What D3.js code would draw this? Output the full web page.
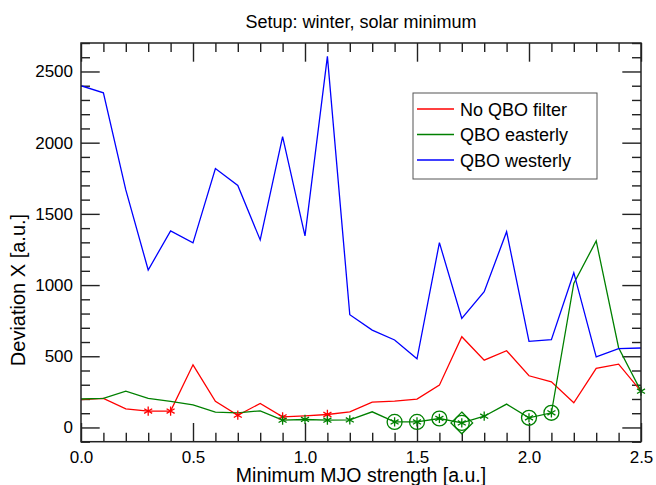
<!DOCTYPE html>
<html>
<head>
<meta charset="utf-8">
<script src="https://cdn.jsdelivr.net/npm/d3@7"></script>
<style>
  body { margin: 0; background: #fff; }
  text { font-family: "Liberation Sans", Arial, sans-serif; fill: #000; }
</style>
</head>
<body>
<div id="chart"></div>
<script>
// minimum MJO strength (x)
var strength = [0.0, 0.1, 0.2, 0.3, 0.4, 0.5, 0.6, 0.7, 0.8, 0.9, 1.0, 1.1, 1.2,
                1.3, 1.4, 1.5, 1.6, 1.7, 1.8, 1.9, 2.0, 2.1, 2.2, 2.3, 2.4, 2.5];

var noFilter = [195, 204, 131, 115, 115, 440, 183, 86, 169, 75, 82, 91, 110,
                178, 185, 199, 297, 637, 473, 539, 363, 321, 173, 415, 445, 255];
var easterly = [200, 204, 255, 204, 183, 159, 108, 103, 117, 51, 56, 51, 53,
                110, 39, 39, 63, 32, 79, 164, 68, 103, 1012, 1310, 560, 255];
var westerly = [2400, 2350, 1668, 1106, 1380, 1296, 1818, 1699, 1317, 2043, 1345, 2606, 792,
                684, 614, 482, 1298, 766, 953, 1375, 605, 616, 1087, 496, 553, 558];

// points that carry marks (by x value)
var noFilterStars = [0.3, 0.4, 0.7, 0.9, 1.1];
var easterlyStars = [0.9, 1.0, 1.1, 1.2, 1.4, 1.5, 1.6, 1.7, 1.8, 2.0, 2.1, 2.5];
var easterlyCircles = [1.4, 1.5, 1.6, 1.7, 2.0, 2.1];
var easterlyDiamonds = [1.7];

var xTicks = [0.0, 0.5, 1.0, 1.5, 2.0, 2.5];
var yTicks = [0, 500, 1000, 1500, 2000, 2500];

var series = [
  {name: "No QBO filter", values: noFilter, color: "#ff0000"},
  {name: "QBO easterly",  values: easterly, color: "#008000"},
  {name: "QBO westerly",  values: westerly, color: "#0000ff"}
];

var width = 656, height = 485;
var plotL = 81, plotR = 641, plotT = 43, plotB = 441.7;
var major = 18.7, minor = 9;

var svg = d3.select("#chart").append("svg")
    .attr("width", width)
    .attr("height", height);

var x = d3.scaleLinear().domain([0, 2.5]).range([plotL, plotR]);
var y = d3.scaleLinear().domain([-100, 2700]).range([plotB, plotT]);

var xMinor = d3.range(0, 26).map(function(i) { return i / 10; })
    .filter(function(v) { return Math.abs(v * 2 - Math.round(v * 2)) > 1e-6; });
var yMinor = d3.range(-100, 2701, 100).filter(function(v) { return v % 500 != 0; });

function tickAxis(axis, scale, ticks, size, labels) {
  return axis(scale).tickValues(ticks).tickSize(-size).tickPadding(8)
    .tickFormat(labels ? labels : "");
}

// ticks on all four sides, pointing inwards
var gx = svg.append("g").attr("transform", "translate(0," + plotB + ")");
gx.call(tickAxis(d3.axisBottom, x, xTicks, major, d3.format(".1f")));
gx.append("g").call(tickAxis(d3.axisBottom, x, xMinor, minor));

var gt = svg.append("g").attr("transform", "translate(0," + plotT + ")");
gt.call(tickAxis(d3.axisTop, x, xTicks, major));
gt.append("g").call(tickAxis(d3.axisTop, x, xMinor, minor));

var gy = svg.append("g").attr("transform", "translate(" + plotL + ",0)");
gy.call(tickAxis(d3.axisLeft, y, yTicks, major, d3.format("d")));
gy.append("g").call(tickAxis(d3.axisLeft, y, yMinor, minor));

var gr = svg.append("g").attr("transform", "translate(" + plotR + ",0)");
gr.call(tickAxis(d3.axisRight, y, yTicks, major));
gr.append("g").call(tickAxis(d3.axisRight, y, yMinor, minor));

svg.selectAll(".domain").remove();
svg.selectAll(".tick line").attr("stroke", "#222").attr("stroke-width", 1.4);
svg.selectAll(".tick text").attr("font-size", 17).attr("fill", "#000")
    .attr("font-family", "Liberation Sans, Arial, sans-serif");
gx.selectAll(".tick text").attr("dy", "0.75em").attr("y", 9);

// clip lines to the frame
svg.append("clipPath").attr("id", "plotclip")
  .append("rect").attr("x", plotL).attr("y", plotT)
  .attr("width", plotR - plotL).attr("height", plotB - plotT);

var line = d3.line()
    .x(function(d) { return x(d[0]); })
    .y(function(d) { return y(d[1]); });

var plot = svg.append("g").attr("clip-path", "url(#plotclip)");
series.forEach(function(s) {
  plot.append("path")
    .datum(strength.map(function(v, i) { return [v, s.values[i]]; }))
    .attr("fill", "none")
    .attr("stroke", s.color)
    .attr("stroke-width", 1.3)
    .attr("d", line);
});

function valueAt(values, v) {
  return values[Math.round(v * 10)];
}

function drawMarks(list, values, color, symbolType, size) {
  var sym = d3.symbol().type(symbolType).size(size);
  svg.append("g").selectAll("path")
    .data(list)
    .join("path")
      .attr("transform", function(v) {
        return "translate(" + x(v) + "," + y(valueAt(values, v)) + ")";
      })
      .attr("d", sym)
      .attr("fill", "none")
      .attr("stroke", color)
      .attr("stroke-width", 1.3);
}

drawMarks(noFilterStars, noFilter, "#ff0000", d3.symbolAsterisk, 60);
drawMarks(easterlyStars, easterly, "#008000", d3.symbolAsterisk, 60);
drawMarks(easterlyCircles, easterly, "#008000", d3.symbolCircle, 175);
drawMarks(easterlyDiamonds, easterly, "#008000", d3.symbolDiamond2, 300);

// frame
svg.append("rect")
  .attr("x", plotL).attr("y", plotT)
  .attr("width", plotR - plotL).attr("height", plotB - plotT)
  .attr("fill", "none").attr("stroke", "#222").attr("stroke-width", 1.5);

// titles
svg.append("text")
  .attr("x", (plotL + plotR) / 2).attr("y", 28)
  .attr("text-anchor", "middle").attr("font-size", 18)
  .text("Setup: winter, solar minimum");

svg.append("text")
  .attr("x", (plotL + plotR) / 2).attr("y", 482)
  .attr("text-anchor", "middle").attr("font-size", 19.5)
  .text("Minimum MJO strength [a.u.]");

svg.append("text")
  .attr("transform", "translate(25," + 290 + ") rotate(-90)")
  .attr("text-anchor", "middle").attr("font-size", 20)
  .text("Deviation X [a.u.]");

// legend
var lg = svg.append("g");
lg.append("rect")
  .attr("x", 413).attr("y", 93).attr("width", 184).attr("height", 86)
  .attr("fill", "#fff").attr("stroke", "#555").attr("stroke-width", 1);

series.forEach(function(s, i) {
  var cy = 109 + i * 25.5;
  lg.append("line")
    .attr("x1", 417).attr("x2", 454)
    .attr("y1", cy).attr("y2", cy)
    .attr("stroke", s.color).attr("stroke-width", 1.3);
  lg.append("text")
    .attr("x", 460).attr("y", cy + 6.5)
    .attr("font-size", 18)
    .text(s.name);
});
</script>
</body>
</html>
